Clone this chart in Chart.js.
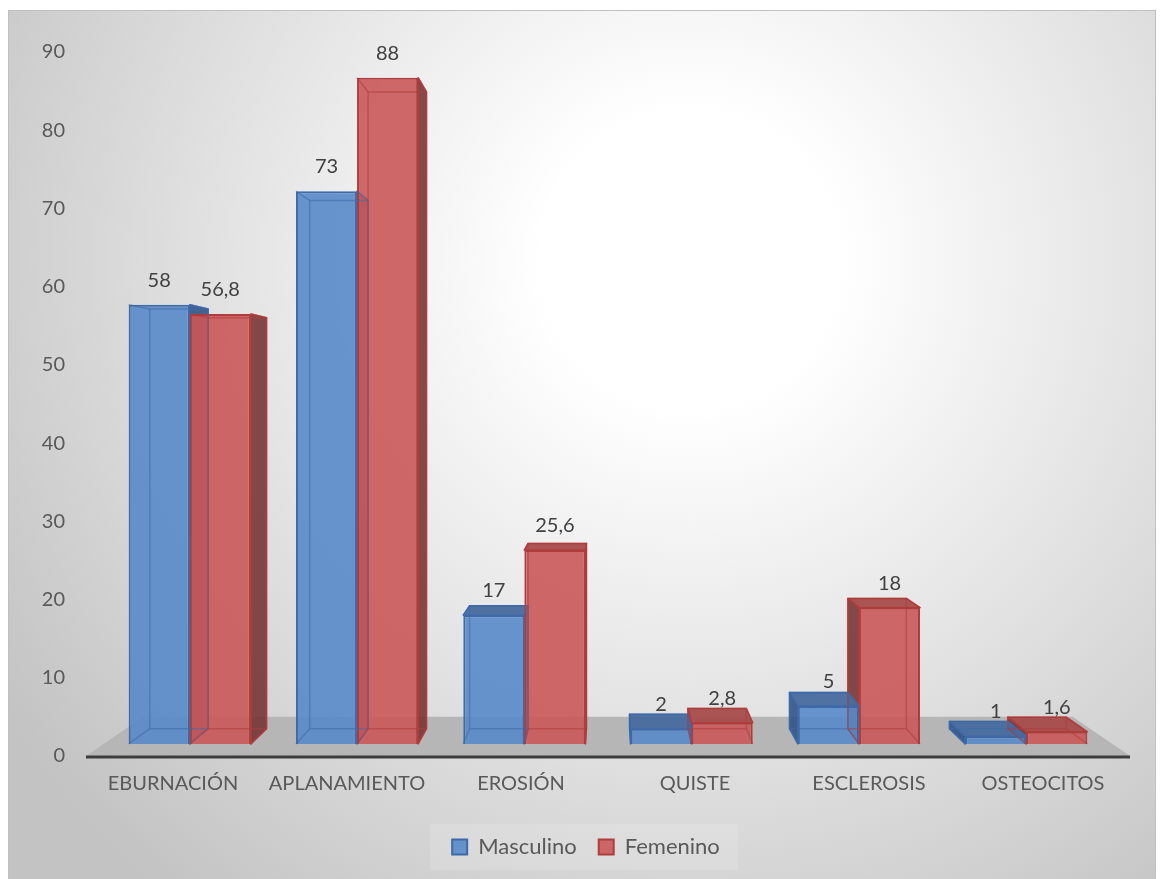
<!DOCTYPE html>
<html>
<head>
<meta charset="utf-8">
<script src="https://cdn.jsdelivr.net/npm/chart.js@4.4.1/dist/chart.umd.min.js"></script>
<style>
  html, body { margin: 0; padding: 0; background: #fff; }
  #chart { display: block; }
</style>
</head>
<body>
<canvas id="chart" width="1162" height="879"></canvas>
<script>
// data
const categories = ['EBURNACIÓN', 'APLANAMIENTO', 'EROSIÓN', 'QUISTE', 'ESCLEROSIS', 'OSTEOCITOS'];
const masculino = [58, 73, 17, 2, 5, 1];
const femenino = [56.8, 88, 25.6, 2.8, 18, 1.6];
const yTicks = [0, 10, 20, 30, 40, 50, 60, 70, 80, 90];

// look of the fake 3D
const BAR_DEPTH = 0.044;    // how far the back face sits toward the vanishing point
const FLOOR_DEPTH = 0.11;
const series = [
  { label: 'Masculino', face: 'rgba(88,138,200,0.9)', edge: [62, 106, 169], side: 'rgba(46,80,130,0.88)', top: 'rgba(72,108,158,0.95)' },
  { label: 'Femenino', face: 'rgba(202,88,88,0.9)', edge: [176, 60, 60], side: 'rgba(116,50,50,0.88)', top: 'rgba(166,76,76,0.95)' }
];

Chart.defaults.font.family = 'Lato, "Open Sans", sans-serif';
Chart.defaults.font.size = 20;
Chart.defaults.color = '#595959';

const rgba = (c, a) => `rgba(${c[0]},${c[1]},${c[2]},${a})`;
const fmt = v => String(v).replace('.', ',');

function vanish(ca) {
  return { x: (ca.left + ca.right) / 2, y: ca.top + 0.493 * (ca.bottom - ca.top) };
}
function toBack(px, py, vp, k) {
  return [px + k * (vp.x - px), py + k * (vp.y - py)];
}
function boxOf(bar, vp) {
  const { x, y, base, width } = bar.getProps(['x', 'y', 'base', 'width'], true);
  const l = x - width / 2, r = x + width / 2;
  const t = Math.min(y, base), b = Math.max(y, base);
  return {
    x, l, r, t, b,
    tl: toBack(l, t, vp, BAR_DEPTH), tr: toBack(r, t, vp, BAR_DEPTH),
    bl: toBack(l, b, vp, BAR_DEPTH), br: toBack(r, b, vp, BAR_DEPTH)
  };
}
function poly(ctx, pts) {
  ctx.beginPath();
  ctx.moveTo(pts[0][0], pts[0][1]);
  for (let i = 1; i < pts.length; i++) ctx.lineTo(pts[i][0], pts[i][1]);
  ctx.closePath();
}
function eachBox(chart, fn) {
  const vp = vanish(chart.chartArea);
  chart.data.datasets.forEach((ds, di) => {
    chart.getDatasetMeta(di).data.forEach((bar, i) => fn(boxOf(bar, vp), series[di], ds.data[i].y));
  });
}

const scene = {
  id: 'scene',
  beforeDraw(chart) {
    const { ctx, width, height } = chart;
    ctx.save();
    ctx.fillStyle = '#fff';
    ctx.fillRect(0, 0, width, height);
    const g = ctx.createRadialGradient(690, 260, 0, 690, 260, 820);
    g.addColorStop(0, '#ffffff');
    g.addColorStop(0.18, '#ffffff');
    g.addColorStop(1, '#c3c3c3');
    ctx.fillStyle = g;
    ctx.fillRect(8, 10, width - 14, height);
    ctx.strokeStyle = '#c0c0c0';
    ctx.lineWidth = 1;
    ctx.strokeRect(8.5, 10.5, width - 15, height);

    // faint panel behind the legend
    const boxes = chart.legend && chart.legend.legendHitBoxes;
    if (boxes && boxes.length) {
      const x0 = Math.min(...boxes.map(h => h.left)) - 22;
      const x1 = Math.max(...boxes.map(h => h.left + h.width)) + 18;
      const cy = boxes[0].top + boxes[0].height / 2;
      ctx.fillStyle = 'rgba(255,255,255,0.14)';
      ctx.fillRect(x0, cy - 23, x1 - x0, 46);
    }
    ctx.restore();
  },
  beforeDatasetsDraw(chart) {
    const { ctx, chartArea: ca } = chart;
    const vp = vanish(ca);
    ctx.save();
    // floor
    const fl = toBack(ca.left, ca.bottom, vp, FLOOR_DEPTH);
    const fr = toBack(ca.right, ca.bottom, vp, FLOOR_DEPTH);
    poly(ctx, [[ca.left, ca.bottom], [ca.right, ca.bottom], fr, fl]);
    ctx.fillStyle = '#b6b6b6';
    ctx.fill();
    ctx.strokeStyle = '#3c3c3c';
    ctx.lineWidth = 3;
    ctx.beginPath();
    ctx.moveTo(ca.left, ca.bottom + 1);
    ctx.lineTo(ca.right, ca.bottom + 1);
    ctx.stroke();

    // side faces, then top faces
    ctx.lineWidth = 1.5;
    ctx.lineJoin = 'round';
    eachBox(chart, (bx, st) => {
      ctx.fillStyle = st.side;
      ctx.strokeStyle = rgba(st.edge, 1);
      if (bx.tr[0] > bx.r + 0.5) {
        poly(ctx, [[bx.r, bx.t], bx.tr, bx.br, [bx.r, bx.b]]);
        ctx.fill(); ctx.stroke();
      }
      if (bx.tl[0] < bx.l - 0.5) {
        poly(ctx, [[bx.l, bx.t], bx.tl, bx.bl, [bx.l, bx.b]]);
        ctx.fill(); ctx.stroke();
      }
    });
    eachBox(chart, (bx, st) => {
      if (bx.tl[1] < bx.t - 0.5) {
        poly(ctx, [[bx.l, bx.t], [bx.r, bx.t], bx.tr, bx.tl]);
        ctx.fillStyle = st.top;
        ctx.strokeStyle = rgba(st.edge, 1);
        ctx.fill(); ctx.stroke();
      }
    });
    ctx.restore();
  },
  afterDatasetsDraw(chart) {
    const { ctx } = chart;
    ctx.save();
    // hidden edges seen through the glassy front
    ctx.lineWidth = 1.5;
    eachBox(chart, (bx, st) => {
      ctx.strokeStyle = rgba(st.edge, 0.55);
      poly(ctx, [bx.tl, bx.tr, bx.br, bx.bl]);
      ctx.stroke();
      ctx.beginPath();
      ctx.moveTo(bx.l, bx.t); ctx.lineTo(bx.tl[0], bx.tl[1]);
      ctx.moveTo(bx.r, bx.t); ctx.lineTo(bx.tr[0], bx.tr[1]);
      ctx.moveTo(bx.l, bx.b); ctx.lineTo(bx.bl[0], bx.bl[1]);
      ctx.moveTo(bx.r, bx.b); ctx.lineTo(bx.br[0], bx.br[1]);
      ctx.stroke();
    });
    // value labels
    ctx.font = '20px Lato, "Open Sans", sans-serif';
    ctx.fillStyle = '#404040';
    ctx.textAlign = 'center';
    ctx.textBaseline = 'alphabetic';
    eachBox(chart, (bx, st, v) => {
      ctx.fillText(fmt(v), bx.x, bx.t - 18);
    });
    ctx.restore();
  }
};

const toPoints = arr => arr.map((v, i) => ({ x: i, y: v }));

new Chart(document.getElementById('chart'), {
  type: 'bar',
  data: {
    labels: categories,
    datasets: [masculino, femenino].map((arr, di) => ({
      label: series[di].label,
      data: toPoints(arr),
      xAxisID: 'xb',
      yAxisID: 'yb',
      backgroundColor: series[di].face,
      borderColor: rgba(series[di].edge, 1),
      borderWidth: 2,
      categoryPercentage: 0.73,
      barPercentage: 1
    }))
  },
  options: {
    responsive: false,
    animation: false,
    layout: { padding: { left: 42, right: 32, top: 52, bottom: 11 } },
    scales: {
      x: {
        type: 'category',
        offset: true,
        grid: { display: false, drawTicks: false },
        border: { display: false },
        ticks: { padding: 16, maxRotation: 0, autoSkip: false, color: '#595959' },
        afterFit(scale) { scale.height = 58; }
      },
      y: {
        type: 'linear',
        position: 'left',
        min: yTicks[0],
        max: yTicks[yTicks.length - 1],
        grid: { display: false, drawTicks: false },
        border: { display: false },
        ticks: { stepSize: yTicks[1] - yTicks[0], padding: 21, color: '#595959' },
        afterFit(scale) { scale.width = 44; }
      },
      xb: {
        type: 'linear',
        axis: 'x',
        position: 'bottom',
        display: false,
        offset: false,
        grid: { offset: false },
        min: -0.62,
        max: 5.62,
        ticks: { stepSize: 1, includeBounds: false }
      },
      yb: {
        type: 'linear',
        axis: 'y',
        position: 'left',
        display: false,
        min: -1.6,
        max: 91.4
      }
    },
    plugins: {
      legend: {
        position: 'bottom',
        labels: { boxWidth: 15, boxHeight: 15, padding: 22, color: '#595959', font: { size: 22 } }
      },
      tooltip: { enabled: false }
    }
  },
  plugins: [scene]
});
</script>
</body>
</html>
